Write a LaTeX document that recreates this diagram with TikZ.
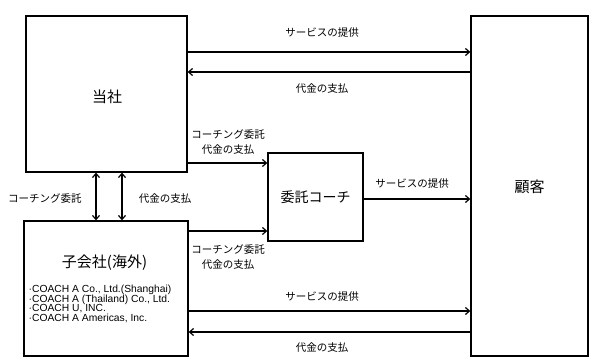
\documentclass[tikz,border=0pt]{standalone}
\usepackage{fontspec}
\setmainfont{Noto Sans CJK JP}
\newfontfamily\latinfont{Liberation Sans}
\usetikzlibrary{arrows.meta}
\tikzset{
  box/.style={draw, line width=1.3pt, inner sep=0pt, fill=white},
  arr/.style={line width=1.2pt, -{Straight Barb[length=4pt,width=7pt,line width=1.2pt]}},
  darr/.style={line width=1.2pt, {Straight Barb[length=4pt,width=7pt,line width=1.2pt]}-{Straight Barb[length=4pt,width=7pt,line width=1.2pt]}},
  lbl/.style={font=\fontsize{10.5}{12}\selectfont, inner sep=0pt, align=center},
  big/.style={font=\fontsize{15}{18}\selectfont},
  item/.style={anchor=base west, inner sep=0pt, font=\latinfont\fontsize{10.3}{12}\selectfont}
}
\begin{document}
\begin{tikzpicture}[x=1pt,y=-1pt]
\useasboundingbox (0,0) rectangle (600,363);
% boxes
\node[box, minimum width=161pt, minimum height=156pt] (tosha) at (106.5,94) {};
\node[big] (toshaT) at (107,97) {当社};
\node[box, minimum width=117pt, minimum height=340pt] (kokyaku) at (529.5,186) {};
\node[big] (kokyakuT) at (529.5,187) {顧客};
\node[box, minimum width=95pt, minimum height=88pt] (coach) at (315.5,197) {};
\node[font=\fontsize{14}{16}\selectfont] (coachT) at (315.5,197) {委託コーチ};
\node[box, minimum width=164pt, minimum height=135pt] (sub) at (106,288.5) {};
\node[big] (subT) at (104.5,263) {子会社(海外)};
\node[item] (i1) at (28.5,293) {·COACH A Co., Ltd.(Shanghai)};
\node[item] (i2) at (28.5,302.4) {·COACH A (Thailand) Co., Ltd.};
\node[item] (i3) at (28.5,311.8) {·COACH U, INC.};
\node[item] (i4) at (28.5,321.2) {·COACH A Americas, Inc.};
% coordinates for rows
\coordinate (r1) at (0,52);
\coordinate (r2) at (0,72);
\coordinate (r3) at (0,163);
\coordinate (r4) at (0,199);
\coordinate (r5) at (0,231);
\coordinate (r6) at (0,311);
\coordinate (r7) at (0,332);
\coordinate (c1) at (96,0);
\coordinate (c2) at (122,0);
% connectors
\draw[arr] (tosha.east |- r1) -- (kokyaku.west |- r1);
\draw[arr] (kokyaku.west |- r2) -- (tosha.east |- r2);
\draw[arr] (tosha.east |- r3) -- (coach.west |- r3);
\draw[arr] (coach.east |- r4) -- (kokyaku.west |- r4);
\draw[arr] (sub.east |- r5) -- (coach.west |- r5);
\draw[arr] (sub.east |- r6) -- (kokyaku.west |- r6);
\draw[arr] (kokyaku.west |- r7) -- (sub.east |- r7);
\draw[darr] (tosha.south -| c1) -- (sub.north -| c1);
\draw[darr] (tosha.south -| c2) -- (sub.north -| c2);
% labels
\node[lbl] (l1) at (322,33) {サービスの提供};
\node[lbl] (l2) at (322,89) {代金の支払};
\node[lbl] (l3a) at (228,135) {コーチング委託};
\node[lbl] (l3b) at (228,150) {代金の支払};
\node[lbl] (l4) at (412,184) {サービスの提供};
\node[lbl] (l5) at (45,199) {コーチング委託};
\node[lbl] (l6) at (165,199) {代金の支払};
\node[lbl] (l7a) at (228,250) {コーチング委託};
\node[lbl] (l7b) at (228,265) {代金の支払};
\node[lbl] (l8) at (322,297) {サービスの提供};
\node[lbl] (l9) at (322,348) {代金の支払};
\end{tikzpicture}
\end{document}
